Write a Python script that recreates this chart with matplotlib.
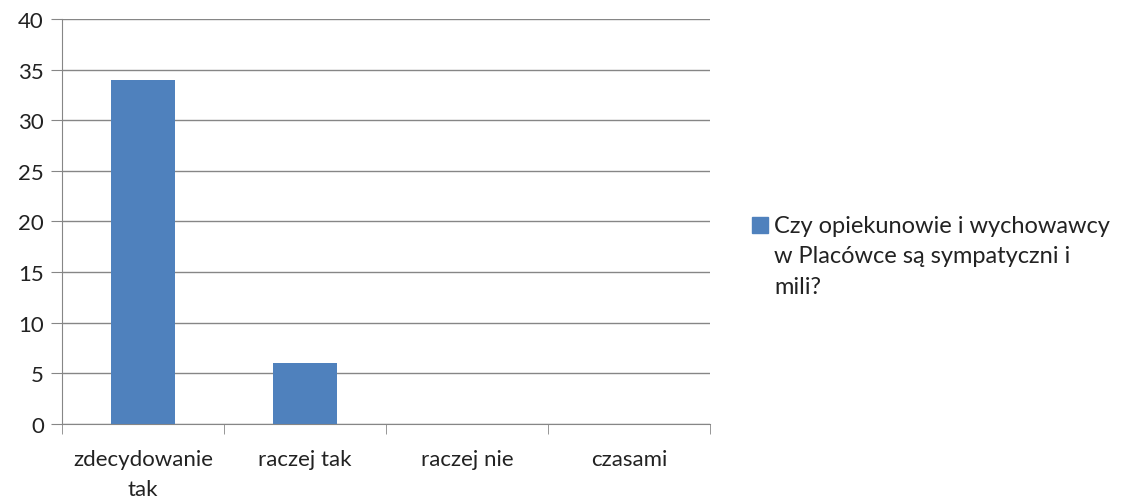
import numpy as np
import matplotlib.pyplot as plt
from matplotlib.patches import Rectangle

# Data
categories = ["zdecydowanie\ntak", "raczej tak", "raczej nie", "czasami"]
values = [34, 6, 0, 0]
series_name = "Czy opiekunowie i wychowawcy\nw Placówce są sympatyczni i\nmili?"

plt.rcParams['font.family'] = ['Lato', 'DejaVu Sans']
bar_color = '#4F81BD'
line_color = '#868686'
text_color = '#222222'

fig = plt.figure(figsize=(11.24, 5.02), dpi=100)
ax = fig.add_axes([0.0552, 0.1534, 0.5765, 0.8068])

x = np.arange(len(categories))
ax.bar(x, values, width=0.4, color=bar_color, zorder=3)

ax.set_xlim(-0.5, len(categories) - 0.5)
ax.set_ylim(0, 40)
ax.set_yticks(np.arange(0, 41, 5))
ax.yaxis.grid(True, color=line_color, linewidth=1, zorder=0)

# category labels centered, tick marks at boundaries
ax.set_xticks(x)
ax.set_xticklabels(categories, fontsize=16, linespacing=1.6, color=text_color)
ax.tick_params(axis='x', length=0, pad=18)
ax.set_xticks(np.arange(-0.5, len(categories), 1), minor=True)
ax.tick_params(axis='x', which='minor', length=7, color=line_color)
ax.tick_params(axis='y', length=8, color=line_color, labelsize=16, pad=5,
               labelcolor=text_color)

for side in ['top', 'right']:
    ax.spines[side].set_visible(False)
ax.spines['left'].set_color(line_color)
ax.spines['bottom'].set_color(line_color)

# legend: square aligned with the first line of the wrapped series name
fig.patches.append(Rectangle((752 / 1124, 1 - 234 / 502), 16 / 1124, 16 / 502,
                             transform=fig.transFigure, color=bar_color))
fig.text(774 / 1124, 1 - 216 / 502, series_name, fontsize=17,
         ha='left', va='top', linespacing=1.55, color=text_color)

plt.savefig("out.png", dpi=100)
